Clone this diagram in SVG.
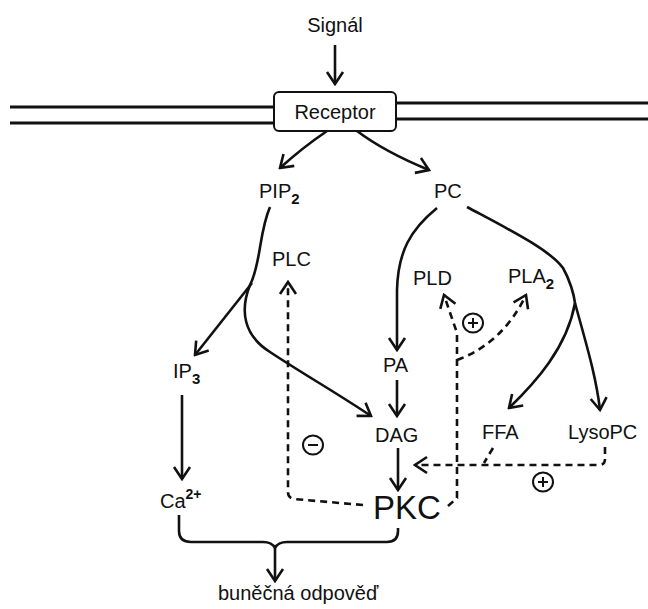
<svg xmlns="http://www.w3.org/2000/svg" width="648" height="609" viewBox="0 0 648 609">
<style>
text{font-family:"Liberation Sans",Arial,sans-serif;font-size:20px;fill:#111}
text.big{font-size:33px}
.c{fill:none;stroke:#111;stroke-width:2.6}
.d{fill:none;stroke:#111;stroke-width:2.6;stroke-dasharray:7 5}
.m{fill:none;stroke:#111;stroke-width:3}
.o{fill:#fff;stroke:#111;stroke-width:2}
.s{stroke:#111;stroke-width:2}
</style>
<defs>
<marker id="a" viewBox="-15 -10 17 20" refX="0" refY="0" markerWidth="17" markerHeight="20" markerUnits="userSpaceOnUse" orient="auto">
<path d="M-12,-8 L0,0 L-12,8" fill="none" stroke="#111" stroke-width="2.6" stroke-dasharray="none"/>
</marker>
</defs>
<g id="membrane">
<path class="m" d="M10,107 H274 M10,123 H274 M396,103 H648 M396,119 H648"/>
</g>
<g id="connectors">
<path class="c" d="M335,45 V84" marker-end="url(#a)"/>
<path class="c" d="M327,131 Q302,148 280,168" marker-end="url(#a)"/>
<path class="c" d="M357,131 Q385,152 429,170" marker-end="url(#a)"/>
<path class="c" d="M270,207 C259,232 261,264 250,285"/>
<path class="c" d="M252,283 L195,355" marker-end="url(#a)"/>
<path class="c" d="M250,285 C240,310 243,335 270,352 C300,372 340,395 371,416" marker-end="url(#a)"/>
<path class="c" d="M182,395 V479" marker-end="url(#a)"/>
<path class="c" d="M437,208 C410,230 398,252 397,290 L397,350" marker-end="url(#a)"/>
<path class="c" d="M397,380 V416" marker-end="url(#a)"/>
<path class="c" d="M398,448 V490" marker-end="url(#a)"/>
<path class="c" d="M467,207 C510,230 550,250 563,268 C570,280 574,295 575,303"/>
<path class="c" d="M575,303 C567,348 535,383 509,408" marker-end="url(#a)"/>
<path class="c" d="M575,303 C585,340 596,375 600,410" marker-end="url(#a)"/>
<path class="c" d="M179,515 V531 Q179,542 191,542 H263 Q272,542 275,548 Q278,542 287,542 H387 Q398,542 398,531 V528"/>
<path class="c" d="M275,548 V581" marker-end="url(#a)"/>
<path class="d" d="M363,505 L294,499 Q288,498 288,492 V282" marker-end="url(#a)"/>
<path class="d" d="M448,506 L457,498 V333 L444,295" marker-end="url(#a)"/>
<path class="d" d="M457,360 Q503,343 526,295" marker-end="url(#a)"/>
<path class="d" d="M493,448 L484,463"/>
<path class="d" d="M605,447 V459 Q605,465 599,465 H415" marker-end="url(#a)"/>
</g>
<g id="signal"><text x="335" y="32" text-anchor="middle">Signál</text></g>
<g id="receptor">
<rect class="o" x="274" y="92" width="122" height="39" rx="5"/>
<text x="335" y="119" text-anchor="middle">Receptor</text>
</g>
<g id="pip2"><text x="259" y="198">PIP<tspan font-size="15" font-weight="bold" dy="6">2</tspan></text></g>
<g id="pc"><text x="434" y="198">PC</text></g>
<g id="plc"><text x="272" y="266">PLC</text></g>
<g id="pld"><text x="413" y="285">PLD</text></g>
<g id="pla2"><text x="508" y="283">PLA<tspan font-size="15" font-weight="bold" dy="6">2</tspan></text></g>
<g id="ip3"><text x="173" y="378">IP<tspan font-size="15" font-weight="bold" dy="6">3</tspan></text></g>
<g id="pa"><text x="383" y="372">PA</text></g>
<g id="dag"><text x="375" y="442">DAG</text></g>
<g id="ffa"><text x="482" y="439">FFA</text></g>
<g id="lysopc"><text x="568" y="439">LysoPC</text></g>
<g id="ca"><text x="160" y="508">Ca<tspan font-size="14" font-weight="bold" dy="-9">2+</tspan></text></g>
<g id="pkc"><text class="big" x="373" y="519">PKC</text></g>
<g id="response"><text x="218" y="600">buněčná odpověď</text></g>
<g id="minus1">
<ellipse class="o" cx="313" cy="445" rx="10" ry="9.5"/>
<path class="s" d="M308,445 H318"/>
</g>
<g id="plus1">
<ellipse class="o" cx="473" cy="323" rx="10" ry="9.5"/>
<path class="s" d="M468,323 H478 M473,318 V328"/>
</g>
<g id="plus2">
<ellipse class="o" cx="543" cy="482" rx="10" ry="9.5"/>
<path class="s" d="M538,482 H548 M543,477 V487"/>
</g>
</svg>
